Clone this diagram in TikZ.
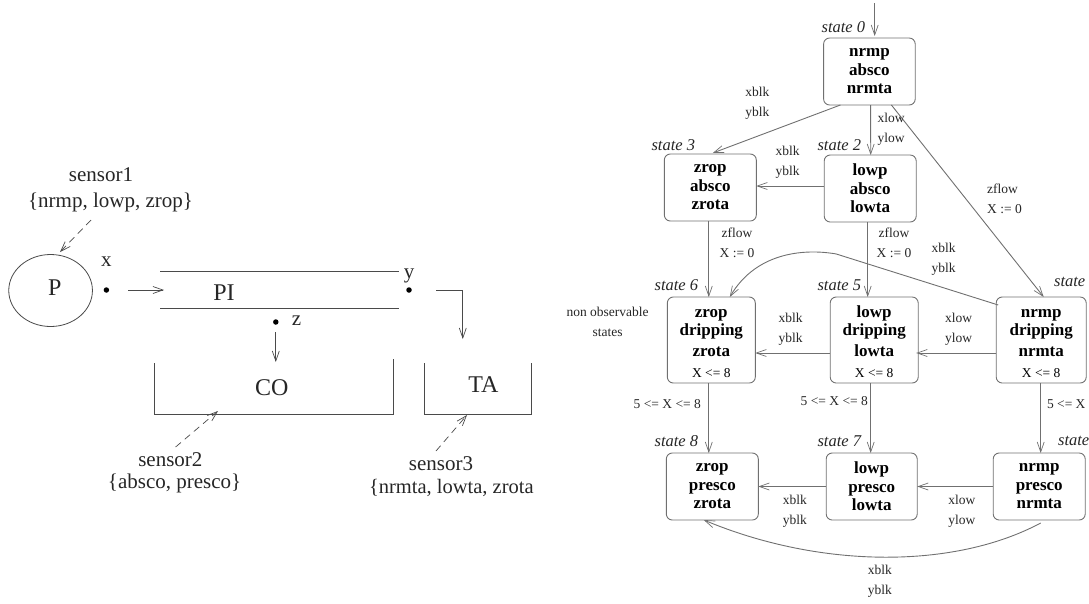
\documentclass[tikz,border=0pt]{standalone}
\usepackage{fontspec}
\setmainfont{Liberation Serif}
\usetikzlibrary{arrows.meta,shapes.geometric}
\definecolor{leftline}{HTML}{4A4A4A}
\definecolor{rightline}{HTML}{707070}
\definecolor{inktext}{HTML}{262626}
\newcommand{\fsz}[2]{\fontsize{#1pt}{#2pt}\selectfont}
\newcommand{\topgap}{\rule{0pt}{15pt}}
\tikzset{
  tip/.style={-{Straight Barb[length=10pt,width=7pt,line width=0.7pt]}},
  leftwire/.style={draw=leftline,line width=0.8pt},
  rightwire/.style={draw=rightline,line width=0.9pt,tip},
  sensorwire/.style={draw=leftline,line width=0.7pt,dash pattern=on 7pt off 5pt,tip},
  dotmark/.style={circle,fill=black,inner sep=0pt,minimum size=5.5pt},
  bigtext/.style={text=inktext,inner sep=0pt,font=\fsz{21}{21}},
  hugetext/.style={text=inktext,inner sep=0pt,font=\fsz{24}{24}},
  statebox/.style={draw=rightline,line width=0.9pt,rounded corners=6pt,inner sep=0pt,outer sep=0pt,
    text=black,align=center,font=\fsz{17}{18.5}\bfseries},
  statename/.style={text=inktext,inner sep=0pt,font=\fsz{16.5}{16.5}\itshape},
  edgetext/.style={text=inktext,inner sep=0pt,align=center,font=\fsz{13.5}{20}},
  lefttext/.style={edgetext,align=left},
}
\begin{document}
\begin{tikzpicture}[x=1pt,y=-1pt]
\useasboundingbox (0,0) rectangle (1089,603);
% left plant
\node[draw=leftline,line width=0.8pt,ellipse,minimum width=83.7pt,minimum height=72pt,inner sep=0pt] (P) at (50.6,290.5) {};
\node[hugetext] (Ptext) at (54.7,288) {P};
\node[dotmark] (xdot) at (106.4,290) {};
\node[bigtext] (xtext) at (106.4,262) {x};
\coordinate (pipein) at (128,290);
\coordinate (pipeto) at (164,290);
\draw[leftwire,tip] (pipein) -- (pipeto);
\coordinate (pta) at (160,271); \coordinate (ptb) at (398.7,271);
\coordinate (pba) at (160,308); \coordinate (pbb) at (398.7,308);
\draw[leftwire] (pta) -- (ptb);
\draw[leftwire] (pba) -- (pbb);
\node[hugetext] (PI) at (224,293) {PI};
\node[dotmark] (ydot) at (409,290) {};
\node[bigtext] (ytext) at (409,276) {y};
\node[dotmark] (zdot) at (275.8,322) {};
\node[bigtext] (ztext) at (296.5,321) {z};
\coordinate (yout) at (436,290);
\coordinate (ytip) at (462.8,339);
\draw[leftwire,tip] (yout) -| (ytip);
\coordinate (zout) at (275.8,332);
\coordinate (ztip) at (275.8,362);
\draw[leftwire,tip] (zout) -- (ztip);
\coordinate (coA) at (154,363); \coordinate (coB) at (154,414);
\coordinate (coC) at (393.6,414); \coordinate (coD) at (393.6,359);
\draw[leftwire] (coA) -- (coB) -- (coC) -- (coD);
\node[hugetext] (CO) at (271.7,388) {CO};
\coordinate (taA) at (424.6,363); \coordinate (taB) at (424.6,414);
\coordinate (taC) at (531,414); \coordinate (taD) at (531,363);
\draw[leftwire] (taA) -- (taB) -- (taC) -- (taD);
\node[hugetext] (TA) at (483.4,385) {TA};
\node[bigtext] (sa) at (101,175) {sensor1};
\node[bigtext] (sb) at (110.5,202) {\{nrmp, lowp, zrop\}};
\coordinate (saout) at (91,220); \coordinate (satip) at (60,252);
\draw[sensorwire] (saout) -- (satip);
\node[bigtext] (sc) at (170.4,460) {sensor2};
\node[bigtext] (sd) at (174.6,483) {\{absco, presco\}};
\coordinate (scout) at (175.6,447); \coordinate (sctip) at (218,411);
\draw[sensorwire] (scout) -- (sctip);
\node[bigtext] (se) at (441,464) {sensor3};
\node[bigtext,anchor=west,font=\fsz{20.5}{20.5}] (sf) at (368.8,488) {\{nrmta, lowta, zrota};
\coordinate (seout) at (436,451); \coordinate (setip) at (467,415);
\draw[sensorwire] (seout) -- (setip);
% state boxes
\node[statebox,minimum width=91.6pt,minimum height=67pt] (s0) at (869.4,71.5) {nrmp\\absco\\nrmta};
\node[statebox,minimum width=92pt,minimum height=67pt] (s3) at (710.3,187.5) {zrop\\absco\\zrota};
\node[statebox,minimum width=92pt,minimum height=67pt] (s2) at (870.2,188.5) {lowp\\absco\\lowta};
\node[statebox,minimum width=88pt,minimum height=86pt] (s6) at (711.3,340) {\topgap zrop\\dripping\\[2pt]zrota\\[3pt]{\fsz{13.5}{13.5}\mdseries X <= 8}};
\node[statebox,minimum width=88pt,minimum height=86pt] (s5) at (874.2,340) {\topgap lowp\\dripping\\[2pt]lowta\\[3pt]{\fsz{13.5}{13.5}\mdseries X <= 8}};
\node[statebox,minimum width=90pt,minimum height=86pt] (s4) at (1041.2,340) {\topgap nrmp\\dripping\\[2pt]nrmta\\[3pt]{\fsz{13.5}{13.5}\mdseries X <= 8}};
\node[statebox,minimum width=92pt,minimum height=67pt] (s8) at (712.3,486.5) {zrop\\presco\\zrota};
\node[statebox,minimum width=91pt,minimum height=67pt] (s7) at (871.7,486.5) {lowp\\presco\\lowta};
\node[statebox,minimum width=92pt,minimum height=67pt] (s9) at (1039.2,486.5) {nrmp\\presco\\nrmta};
% state names
\node[statename] (n0) at (843.4,27) {state 0};
\node[statename] (n3) at (673.3,145) {state 3};
\node[statename] (n2) at (839.3,145) {state 2};
\node[statename] (n6) at (676.4,285) {state 6};
\node[statename] (n5) at (839.3,285) {state 5};
\node[statename,anchor=west] (n4) at (1053.9,282) {state};
\node[statename] (n8) at (676.4,441) {state 8};
\node[statename] (n7) at (839.3,441) {state 7};
\node[statename,anchor=west] (n9) at (1057.9,441) {state};
% connectors
\coordinate (init) at (874.7,3);
\draw[rightwire] (init) -- ([xshift=5.3pt,yshift=2pt]s0.north);
\draw[rightwire] ([xshift=-29pt]s0.south) -- ([xshift=2.5pt,yshift=1pt]s3.north);
\draw[rightwire] ([xshift=1.25pt]s0.south) -- ([xshift=0.5pt]s2.north);
\draw[rightwire] ([xshift=22pt]s0.south) -- ([xshift=2.5pt]s4.north);
\draw[rightwire] ([yshift=2.5pt]s2.west) -- ([yshift=1.5pt]s3.east);
\draw[rightwire] ([xshift=-1.5pt]s3.south) -- ([xshift=-2.5pt]s6.north);
\draw[rightwire] ([xshift=-2.5pt]s2.south) -- ([xshift=-6.5pt]s5.north);
\draw[rightwire] ([shift={(2pt,-8pt)}]s4.north west) -- (836.3,254) .. controls (808.3,249) and (757.3,250) .. ([xshift=18.5pt]s6.north);
\draw[rightwire] ([yshift=-13pt]s4.west) -- ([xshift=-2pt,yshift=-13pt]s5.east);
\draw[rightwire] ([yshift=-13pt]s5.west) -- ([yshift=-13pt]s6.east);
\draw[rightwire] ([xshift=-2.5pt]s6.south) -- ([xshift=-3.5pt]s8.north);
\draw[rightwire] ([xshift=-3.5pt]s5.south) -- ([xshift=-1pt]s7.north);
\draw[rightwire] ([xshift=-0.5pt]s4.south) -- ([xshift=1.5pt]s9.north);
\draw[rightwire] (s9.west) -- (s7.east);
\draw[rightwire] (s7.west) -- (s8.east);
\draw[rightwire] ([shift={(1.5pt,-3pt)}]s9.south) .. controls (954.7,569) and (821.1,569) .. ([xshift=-8.5pt]s8.south);
% edge labels
\node[edgetext] (e1) at (757.3,103) {xblk\\yblk};
\node[edgetext] (e2) at (891,129) {xlow\\ylow};
\node[edgetext] (e3) at (787.7,162) {xblk\\yblk};
\node[lefttext,anchor=west] (e4) at (987,199) {zflow\\X := 0};
\node[edgetext] (e5) at (737,243) {zflow\\X := 0};
\node[edgetext] (e6) at (894,243) {zflow\\X := 0};
\node[edgetext] (e7) at (943.5,259) {xblk\\yblk};
\node[edgetext] (e8) at (607.6,321.5) {non observable\\states\hspace{14pt}};
\node[edgetext] (e9) at (790.7,329) {xblk\\yblk};
\node[edgetext] (e10) at (958.7,329) {xlow\\ylow};
\node[edgetext] (e11) at (667.3,404) {5 <= X <= 8};
\node[edgetext] (e12) at (834.3,401) {5 <= X <= 8};
\node[edgetext,anchor=west] (e13) at (1046.8,404) {5 <= X};
\node[edgetext] (e14) at (794.8,511) {xblk\\yblk};
\node[edgetext] (e15) at (961.8,511) {xlow\\ylow};
\node[edgetext] (e16) at (879.8,581) {xblk\\yblk};
\end{tikzpicture}
\end{document}
